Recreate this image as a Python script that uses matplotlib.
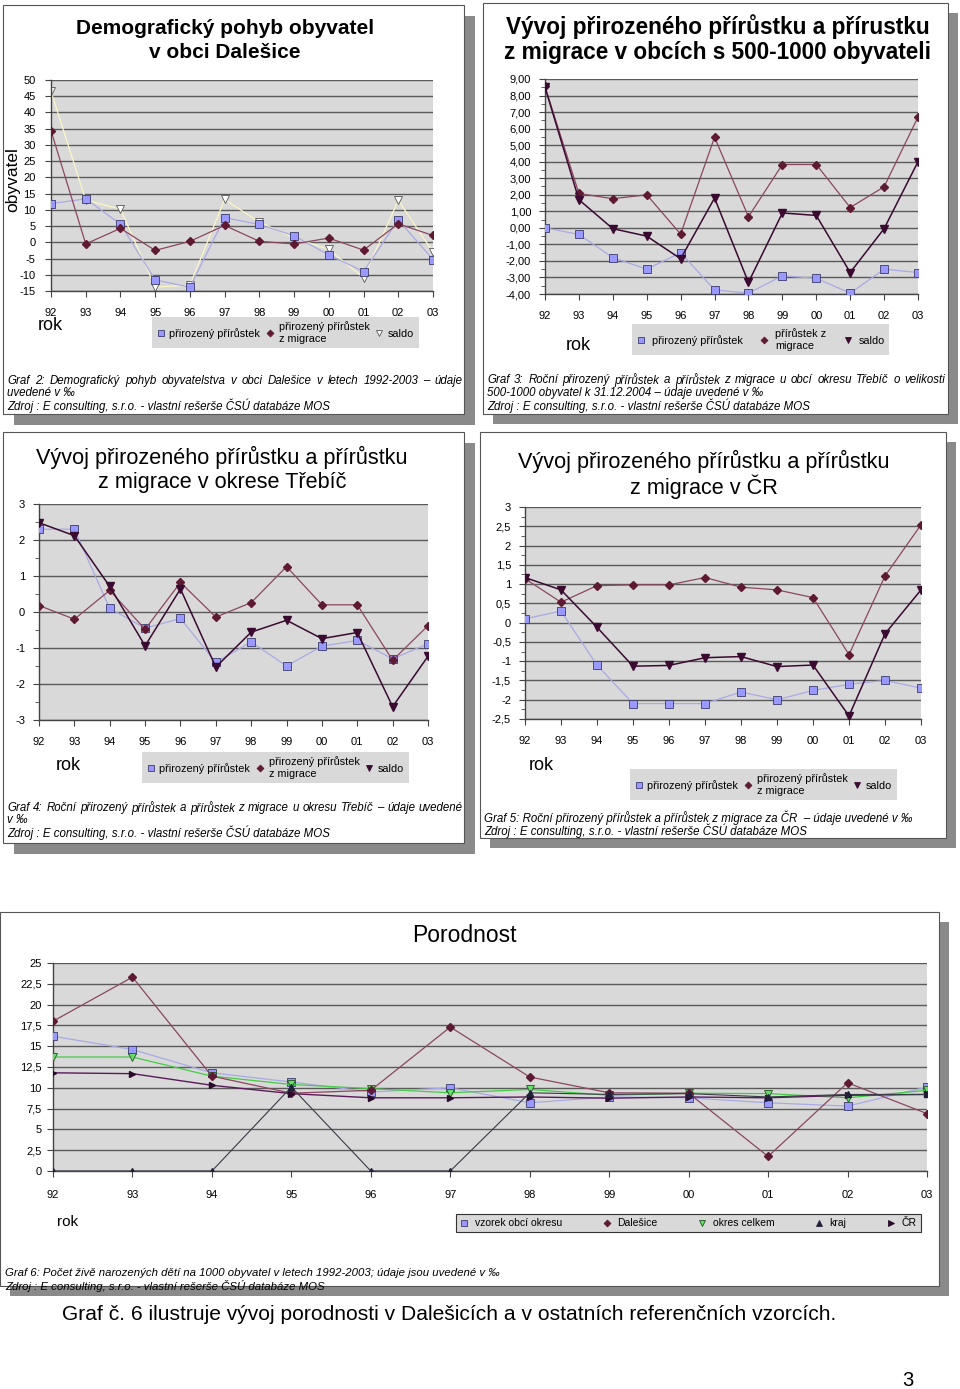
import matplotlib
matplotlib.use("Agg")
import matplotlib.pyplot as plt
from matplotlib.lines import Line2D
from matplotlib.patches import Rectangle
from matplotlib.ticker import MultipleLocator

plt.rcParams['font.family'] = ['Liberation Sans', 'DejaVu Sans']

W, H = 960, 1389
fig = plt.figure(figsize=(W / 100, H / 100), dpi=100)
renderer = fig.canvas.get_renderer()

years = ['92', '93', '94', '95', '96', '97', '98', '99', '00', '01', '02', '03']

# Graf 2 - Dalešice
g1_prirozeny = [11.9, 13.4, 5.6, -11.6, -13.8, 7.6, 5.5, 2.0, -3.9, -9.0, 6.9, -5.3]
g1_migrace = [34.4, -0.5, 4.3, -2.5, 0.3, 5.2, 0.3, -0.5, 1.3, -2.4, 5.7, 2.1]
g1_saldo = [46.5, 13.0, 10.2, -13.8, -13.2, 13.2, 6.2, 1.4, -2.2, -10.9, 12.9, -3.0]

# Graf 3 - obce 500-1000 obyvatel
g2_prirozeny = [0.0, -0.4, -1.8, -2.5, -1.5, -3.75, -3.95, -2.9, -3.05, -3.95, -2.5, -2.7]
g2_migrace = [8.55, 2.08, 1.76, 2.0, -0.38, 5.48, 0.67, 3.83, 3.83, 1.23, 2.48, 6.7]
g2_saldo = [8.5, 1.7, -0.05, -0.5, -1.87, 1.8, -3.3, 0.9, 0.75, -2.7, -0.05, 4.0]

# Graf 4 - okres Třebíč
g3_prirozeny = [2.3, 2.3, 0.1, -0.45, -0.18, -1.4, -0.83, -1.5, -0.95, -0.79, -1.3, -0.88]
g3_migrace = [0.18, -0.2, 0.6, -0.48, 0.82, -0.14, 0.26, 1.26, 0.2, 0.2, -1.34, -0.38]
g3_saldo = [2.48, 2.12, 0.71, -0.94, 0.64, -1.53, -0.56, -0.23, -0.74, -0.57, -2.63, -1.23]

# Graf 5 - ČR
g4_prirozeny = [0.1, 0.3, -1.1, -2.1, -2.1, -2.1, -1.8, -2.0, -1.76, -1.6, -1.5, -1.7]
g4_migrace = [1.14, 0.53, 0.96, 0.98, 0.98, 1.17, 0.92, 0.85, 0.65, -0.83, 1.21, 2.54]
g4_saldo = [1.17, 0.85, -0.12, -1.13, -1.11, -0.91, -0.88, -1.14, -1.1, -2.42, -0.29, 0.85]

# Graf 6 - porodnost
p_vzorek = [16.2, 14.6, 11.8, 10.7, 9.5, 10.0, 8.2, 8.9, 8.8, 8.2, 7.8, 10.1]
p_dalesice = [18.0, 23.3, 11.4, 9.35, 9.7, 17.3, 11.3, 9.4, 9.35, 1.75, 10.6, 6.9]
p_okres = [13.7, 13.7, 11.4, 10.4, 9.9, 9.4, 9.8, 9.1, 9.35, 9.3, 8.8, 9.7]
p_kraj = [0, 0, 0, 10.1, 0, 0, 9.4, 9.2, 9.3, 8.9, 9.2, 9.2]
p_cr = [11.8, 11.7, 10.3, 9.3, 8.8, 8.8, 8.9, 8.75, 8.9, 8.8, 9.1, 9.2]

BG = '#d9d9d9'
GRID = '#5a5a5a'
C_SQ_LINE = '#a9a9e6'
C_SQ_FACE = '#9999ff'
C_SQ_EDGE = '#3a3a6a'
C_DI = '#8c4660'
C_DI_FACE = '#5e1a33'
C_SAL = '#3a0a30'


def fx(x):
    return x / W


def fy(y):
    return 1 - y / H


def rect(x0, y0, x1, y1):
    return [x0 / W, 1 - y1 / H, (x1 - x0) / W, (y1 - y0) / H]


def panel(x0, y0, x1, y1, sh=10):
    fig.add_artist(Rectangle((fx(x0 + sh), fy(y1 + sh)), (x1 - x0) / W, (y1 - y0) / H,
                             transform=fig.transFigure, facecolor='#8a8a8a',
                             edgecolor='none', zorder=-3))
    fig.add_artist(Rectangle((fx(x0), fy(y1)), (x1 - x0) / W, (y1 - y0) / H,
                             transform=fig.transFigure, facecolor='white',
                             edgecolor='#555555', lw=0.8, zorder=-2))


def ftext(x, y, s, **kw):
    return fig.text(fx(x), fy(y), s, **kw)


def justify(x0, x1, y, line, **kw):
    words = line.split()
    objs = [ftext(x0, y, w, **kw) for w in words]
    widths = [o.get_window_extent(renderer).width for o in objs]
    gap = (x1 - x0 - sum(widths)) / (len(words) - 1)
    pos = x0
    for o, w in zip(objs, widths):
        o.set_x(fx(pos))
        pos += w + gap


def setup_axes(r, ylo, yhi, major, minor, fmt, fs=8, ypad=2):
    ax = fig.add_axes(r, zorder=2)
    ax.set_facecolor(BG)
    x = list(range(len(years)))
    ax.set_xlim(0, len(years) - 1)
    ax.set_ylim(ylo, yhi)
    ax.set_xticks(x)
    ax.set_xticklabels(years, fontsize=fs)
    ax.yaxis.set_major_locator(MultipleLocator(major))
    if minor:
        ax.yaxis.set_minor_locator(MultipleLocator(minor))
    ax.yaxis.set_major_formatter(plt.FuncFormatter(fmt))
    ax.tick_params(axis='y', labelsize=fs, length=4, width=0.8, color='#444444', pad=ypad)
    ax.tick_params(axis='y', which='minor', length=3, width=0.6, color='#444444')
    ax.tick_params(axis='x', length=4, width=0.8, color='#444444', pad=8)
    ax.grid(axis='y', which='major', color=GRID, lw=1.0)
    ax.set_axisbelow(True)
    for s in ['top', 'right']:
        ax.spines[s].set_visible(False)
    for s in ['left', 'bottom']:
        ax.spines[s].set_color('#444444')
        ax.spines[s].set_linewidth(1.0)
    return ax, x


def comma(d):
    def f(v, pos):
        s = f"{v:.{d}f}"
        if s == '-0':
            s = '0'
        return s.replace('.', ',')
    return f


def comma_auto(v, pos):
    return f"{v:g}".replace('.', ',')


def legend(x, y, handles, labels, fs=7.8, edge='none', ncol=3, colsp=0.5, htp=0.4):
    lg = fig.legend(handles, labels, loc='upper left', bbox_to_anchor=(fx(x), fy(y)),
                    ncol=ncol, fontsize=fs, frameon=True, fancybox=False,
                    facecolor=BG, edgecolor=edge, framealpha=1, handlelength=0.8,
                    handletextpad=htp, columnspacing=colsp, borderpad=0.4,
                    borderaxespad=0)
    lg.set_zorder(3)
    lg.get_frame().set_linewidth(0.8)
    return lg


def h(marker, face, edge, ms=5):
    return Line2D([], [], linestyle='none', marker=marker, markerfacecolor=face,
                  markeredgecolor=edge, markersize=ms, markeredgewidth=0.6)


def sq(ax, x, y):
    ax.plot(x, y, color=C_SQ_LINE, lw=0.9, marker='s', ms=5.5,
            mfc=C_SQ_FACE, mec=C_SQ_EDGE, mew=0.6, zorder=3)


def di(ax, x, y):
    ax.plot(x, y, color=C_DI, lw=0.9, marker='D', ms=4, mfc=C_DI_FACE,
            mec=C_DI_FACE, zorder=4)


def sal(ax, x, y):
    ax.plot(x, y, color=C_SAL, lw=1.1, marker='v', ms=5.5, mfc=C_SAL,
            mec=C_SAL, zorder=5)


# ---------- Panels ----------
panel(3, 5, 464, 414, sh=11)
panel(483, 3, 948, 414, sh=10)
panel(3, 432, 464, 843, sh=11)
panel(480, 432, 946, 838, sh=10)
panel(0, 912, 939, 1286, sh=10)

cap = dict(fontsize=8.3, style='italic', ha='left', va='center')
std_handles = [h('s', C_SQ_FACE, C_SQ_EDGE), h('D', C_DI_FACE, C_DI_FACE, 3.5),
               h('v', C_SAL, C_SAL)]

# ---------- Chart 1 ----------
ax, x = setup_axes(rect(51, 80, 433, 291), -15, 50, 5, None, comma(0), ypad=7)
sq(ax, x, g1_prirozeny)
di(ax, x, g1_migrace)
ax.plot(x, g1_saldo, color='#fbf6c4', lw=0.9, marker='v', ms=6, mfc='white',
        mec='#555555', mew=0.6, zorder=2)
ftext(13, 180, 'obyvatel', fontsize=12.5, rotation=90, ha='center', va='center')
ftext(225, 28, 'Demografický pohyb obyvatel', fontsize=15, fontweight='bold',
      ha='center', va='center')
ftext(225, 53, 'v obci Dalešice', fontsize=15, fontweight='bold', ha='center', va='center')
ftext(50, 326, 'rok', fontsize=13, ha='center', va='center')
legend(152, 317, [h('s', C_SQ_FACE, C_SQ_EDGE), h('D', C_DI_FACE, C_DI_FACE, 3.5),
                  h('v', 'white', '#555555')],
       ['přirozený přírůstek', 'přirozený přírůstek\nz migrace', 'saldo'])
justify(7, 463, 381, 'Graf 2: Demografický pohyb obyvatelstva v obci Dalešice v letech 1992-2003 – údaje', **cap)
ftext(7, 393, 'uvedené v ‰', **cap)
ftext(7, 406, 'Zdroj : E consulting, s.r.o. - vlastní rešerše ČSÚ databáze MOS', **cap)

# ---------- Chart 2 ----------
ax, x = setup_axes(rect(545, 79, 918, 294), -4, 9, 1, 0.5, comma(2), ypad=6)
sq(ax, x, g2_prirozeny)
di(ax, x, g2_migrace)
sal(ax, x, g2_saldo)
ftext(718, 27, 'Vývoj přirozeného přírůstku a přírustku', fontsize=16.3,
      fontweight='bold', ha='center', va='center')
ftext(718, 53, 'z migrace v obcích s 500-1000 obyvateli', fontsize=16.3,
      fontweight='bold', ha='center', va='center')
ftext(578, 345, 'rok', fontsize=13, ha='center', va='center')
legend(632, 324, std_handles, ['přirozený přírůstek', 'přírůstek z\nmigrace', 'saldo'],
       colsp=1.6, htp=0.6)
justify(487, 945, 380, 'Graf 3: Roční přirozený přírůstek a přírůstek z migrace u obcí okresu Třebíč o velikosti', **cap)
ftext(487, 393, '500-1000 obyvatel k 31.12.2004 – údaje uvedené v ‰', **cap)
ftext(487, 406, 'Zdroj : E consulting, s.r.o. - vlastní rešerše ČSÚ databáze MOS', **cap)

# ---------- Chart 3 ----------
ax, x = setup_axes(rect(39, 504, 428, 720), -3, 3, 1, 0.5, comma(0), ypad=6)
sq(ax, x, g3_prirozeny)
di(ax, x, g3_migrace)
sal(ax, x, g3_saldo)
ftext(222, 457, 'Vývoj přirozeného přírůstku a přírůstku', fontsize=15.6,
      ha='center', va='center')
ftext(222, 483, 'z migrace v okrese Třebíč', fontsize=15.6, ha='center', va='center')
ftext(68, 766, 'rok', fontsize=13, ha='center', va='center')
legend(142, 752, std_handles, ['přirozený přírůstek', 'přirozený přírůstek\nz migrace', 'saldo'])
justify(7, 463, 808, 'Graf 4: Roční přirozený přírůstek a přírůstek z migrace u okresu Třebíč – údaje uvedené', **cap)
ftext(7, 820, 'v ‰', **cap)
ftext(7, 833, 'Zdroj : E consulting, s.r.o. - vlastní rešerše ČSÚ databáze MOS', **cap)

# ---------- Chart 4 ----------
ax, x = setup_axes(rect(525, 507, 921, 719), -2.5, 3, 0.5, 0.25, comma_auto, ypad=6)
sq(ax, x, g4_prirozeny)
di(ax, x, g4_migrace)
sal(ax, x, g4_saldo)
ftext(704, 461, 'Vývoj přirozeného přírůstku a přírůstku', fontsize=15.6,
      ha='center', va='center')
ftext(704, 487, 'z migrace v ČR', fontsize=15.6, ha='center', va='center')
ftext(541, 766, 'rok', fontsize=13, ha='center', va='center')
legend(630, 769, std_handles, ['přirozený přírůstek', 'přirozený přírůstek\nz migrace', 'saldo'])
ftext(484, 818, 'Graf 5: Roční přirozený přírůstek a přírůstek z migrace za ČR  – údaje uvedené v ‰', **cap)
ftext(484, 831, 'Zdroj : E consulting, s.r.o. - vlastní rešerše ČSÚ databáze MOS', **cap)

# ---------- Chart 5 ----------
ax, x = setup_axes(rect(53, 963, 927, 1171), 0, 25, 2.5, None, comma_auto, ypad=4)
ax.tick_params(axis='x', pad=10)
sq(ax, x, p_vzorek)
di(ax, x, p_dalesice)
ax.plot(x, p_okres, color='#44cc44', lw=0.9, marker='v', ms=5.5, mfc='#66dd66',
        mec='#225522', mew=0.6, zorder=3)
ax.plot(x, p_kraj, color='#3a3a48', lw=0.8, marker='^', ms=5, mfc='#20203a',
        mec='#20203a', zorder=5)
ax.plot(x, p_cr, color='#5a1a5a', lw=1.0, marker='>', ms=5, mfc='#2a0a2a',
        mec='#2a0a2a', zorder=4)
ftext(464, 935, 'Porodnost', fontsize=16.5, ha='center', va='center')
ftext(68, 1222, 'rok', fontsize=11, ha='center', va='center')
legend(456, 1214, [h('s', C_SQ_FACE, C_SQ_EDGE), h('D', C_DI_FACE, C_DI_FACE, 3.5),
                   h('v', '#66dd66', '#225522'), h('^', '#20203a', '#20203a'),
                   h('>', '#2a0a2a', '#2a0a2a')],
       ['vzorek obcí okresu', 'Dalešice', 'okres celkem', 'kraj', 'ČR'],
       fs=7.5, edge='#333333', ncol=5, colsp=3.9, htp=0.6)
cap6 = dict(fontsize=8.2, style='italic', ha='left', va='center')
ftext(5, 1273, 'Graf 6: Počet živě narozených dětí na 1000 obyvatel v letech 1992-2003; údaje jsou uvedené v ‰', **cap6)
ftext(5, 1286, 'Zdroj : E consulting, s.r.o. - vlastní rešerše ČSÚ databáze MOS', **cap6)

ftext(449.5, 1314, 'Graf č. 6 ilustruje vývoj porodnosti v Dalešicích a v ostatních referenčních vzorcích.',
      fontsize=15.1, ha='center', va='center')
ftext(908, 1381, '3', fontsize=14.5, ha='center', va='center')

fig.savefig('out.png', dpi=100)
